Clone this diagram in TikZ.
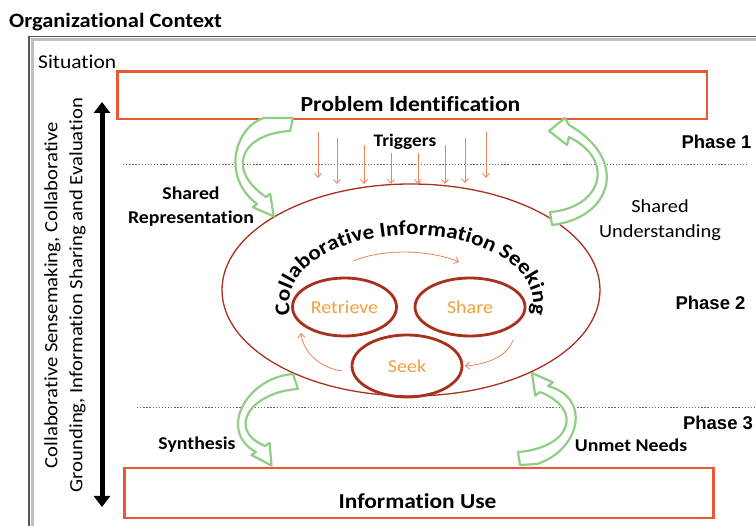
\documentclass[tikz,border=0pt]{standalone}
\usepackage{fontspec}
\setmainfont{Carlito}[FakeStretch=1.1, Ligatures=NoCommon]
\newfontfamily\phasefont{Liberation Sans}
\usetikzlibrary{arrows.meta,shapes.geometric,decorations.text}
\definecolor{boxred}{RGB}{234,88,48}
\definecolor{ellred}{RGB}{168,48,28}
\definecolor{txtorange}{RGB}{240,160,60}
\definecolor{thinor}{RGB}{238,130,90}
\definecolor{grn}{RGB}{145,205,135}
\definecolor{dotgray}{RGB}{100,100,100}
\definecolor{framedk}{RGB}{85,85,85}
\definecolor{framelt}{RGB}{190,190,190}
\begin{document}
\begin{tikzpicture}[x=1pt,y=-1pt,
  boldlbl/.style={inner sep=0pt, align=center, font=\fontsize{18}{24}\selectfont\bfseries},
  reglbl/.style={inner sep=0pt, align=center, font=\fontsize{18.5}{25}\selectfont},
  phaselbl/.style={inner sep=0pt, font=\phasefont\bfseries\fontsize{18.5}{22}\selectfont},
  redbox/.style={draw=boxred, line width=2.5pt, inner sep=0pt, anchor=north west},
  bigell/.style={ellipse, draw=ellred, line width=1.3pt, inner sep=0pt},
  smallell/.style={ellipse, draw=ellred, line width=2.8pt, inner sep=0pt, text=txtorange, font=\fontsize{18.2}{22}\selectfont},
  thinarrow/.style={draw=thinor, line width=0.8pt, -{Straight Barb[length=4pt,width=7pt]}},
  dotline/.style={draw=dotgray, line width=1pt, dash pattern=on 1.3pt off 1.8pt},
  garrow/.style={draw=grn, line width=2.2pt, fill=white, line join=round},
  blackarrow/.style={line width=5pt, {Triangle[width=16pt,length=11pt]}-{Triangle[width=16pt,length=11pt]}}
]
\useasboundingbox (0,0) rectangle (756,526);
\clip (0,0) rectangle (756,526);
\fill[white] (0,0) rectangle (756,526);

% frame
\draw[framedk, line width=1.6pt] (29,600) -- (29,36.5) -- (800,36.5);
\draw[framelt, line width=2.6pt] (32.2,600) -- (32.2,39.8) -- (800,39.8);

% titles
\node[anchor=base west, inner sep=0pt, font=\fontsize{20.4}{24}\selectfont\bfseries] (org) at (9,28) {Organizational Context};
\node[anchor=base west, inner sep=0pt, font=\fontsize{19.5}{24}\selectfont] (sit) at (38,68.5) {Situation};

% dotted phase separators
\coordinate (d1a) at (123,165); \coordinate (d1b) at (747,165);
\coordinate (d3a) at (137,408); \coordinate (d3b) at (756,408);
\draw[dotline] (d1a) -- (d1b);
\draw[dotline] (d3a) -- (d3b);

% boxes
\node[redbox, minimum width=589.5pt, minimum height=47.5pt] (pid) at (116,70.5) {};
\node[inner sep=0pt, font=\fontsize{21.5}{24}\selectfont\bfseries] (pidt) at (410.5,104) {Problem Identification};
\node[redbox, minimum width=589pt, minimum height=50pt] (iu) at (123,467) {};
\node[inner sep=0pt, font=\fontsize{21.3}{24}\selectfont\bfseries] (iut) at (417.5,501) {Information Use};

% vertical black arrow and its text
\coordinate (va) at (102,102);
\coordinate (vb) at (102,507);
\draw[blackarrow] (va) -- (vb);
\node[inner sep=0pt, align=center, rotate=90, font=\fontsize{18.8}{25}\selectfont] (side) at (65,295)
  {Collaborative Sensemaking, Collaborative\\Grounding, Information Sharing and Evaluation};

% phases
\node[phaselbl] (ph1) at (716.5,141.5) {Phase 1};
\node[phaselbl] (ph2) at (710.5,302.5) {Phase 2};
\node[phaselbl] (ph3) at (718,423) {Phase 3};

% big ellipse
\node[bigell, minimum width=378pt, minimum height=212pt] (cis) at (411,290) {};
\coordinate (cisL) at (296.4,326.2);
\path[decorate, decoration={text along path, text align=center,
   text={|\fontsize{21}{24}\selectfont\bfseries|Collaborative Information Seeking}}]
   (cisL) arc[start angle=160, end angle=380, x radius=122, y radius=68];

% triggers
\node[boldlbl, font=\fontsize{17.6}{22}\selectfont\bfseries] (trig) at (405,142) {Triggers};
\foreach \i/\x/\ya/\yb in {1/318/132/178, 2/337/138/184, 3/364/145/184, 4/391/153/184,
                         5/418/153/184, 6/445/145/184, 7/465/138/183, 8/486/132/178} {
  \coordinate (trs\i) at (\x,\ya);
  \coordinate (tre\i) at (\x,\yb);
  \draw[thinarrow] (trs\i) -- (tre\i);
}

% small ellipses
\node[smallell, minimum width=104pt, minimum height=58pt] (retr) at (344.5,307) {Retrieve};
\node[smallell, minimum width=110pt, minimum height=58pt] (shar) at (470,307) {Share};
\node[smallell, minimum width=110pt, minimum height=62pt] (seek) at (407,366) {Seek};

% cycle arrows
\coordinate (c1a) at (353,261); \coordinate (c1b) at (459,262);
\coordinate (c2a) at (513,340); \coordinate (c2b) at (465,366);
\coordinate (c3a) at (342,371); \coordinate (c3b) at (301,333);
\draw[thinarrow] (c1a) .. controls (385,248) and (430,250) .. (c1b);
\draw[thinarrow] (c2a) .. controls (508,355) and (490,364) .. (c2b);
\draw[thinarrow] (c3a) .. controls (320,368) and (303,352) .. (c3b);

% green curved block arrows
\draw[garrow] (264,118) -- (293,118) -- (290,131) .. controls (240,134) and (226,170) .. (266,197)
  -- (270.2,193.8) -- (273.7,216.3) -- (252.8,207.2) -- (257,204)
  .. controls (220,176) and (236,126) .. (264,118) -- cycle;
\draw[garrow] (550,212) -- (552,225) .. controls (612,218) and (630,160) .. (569,125)
  -- (565,118) -- (549,131) -- (567,145) -- (569,137)
  .. controls (616,160) and (602,208) .. (550,212) -- cycle;
\draw[garrow] (293,374) -- (298,389) .. controls (250,392) and (226,430) .. (265,446)
  -- (269.6,443) -- (271.5,465.6) -- (251.4,455) -- (256,452)
  .. controls (218,432) and (245,378) .. (293,374) -- cycle;
\draw[garrow] (518,452) -- (520,465) -- (537,464) .. controls (580,450) and (592,398) .. (548,386)
  -- (552.8,382.4) -- (532,373) -- (535.2,395.6) -- (540,392)
  .. controls (585,410) and (570,448) .. (518,452) -- cycle;

% arrow labels
\node[boldlbl] (shrep) at (191,207) {Shared\\Representation};
\node[reglbl] (shund) at (660,220.5) {Shared\\Understanding};
\node[boldlbl] (syn) at (197,445) {Synthesis};
\node[boldlbl] (unmet) at (631,445) {Unmet Needs};
\end{tikzpicture}
\end{document}
